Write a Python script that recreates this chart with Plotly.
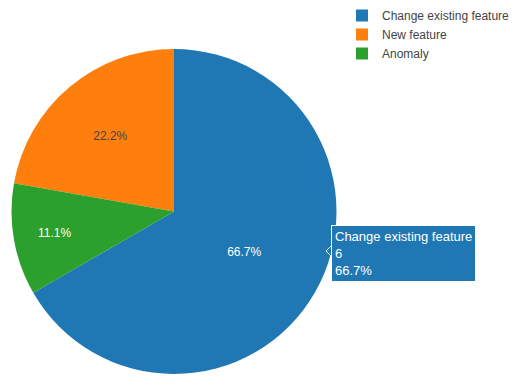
import plotly.graph_objects as go

labels = ["Change existing feature", "New feature", "Anomaly"]
values = [6, 2, 1]
colors = ["#1f77b4", "#ff7f0e", "#2ca02c"]

W, H = 524, 385
ML, MR, MT, MB = 10, 186, 49, 11
PW, PH = W - ML - MR, H - MT - MB

def px_x(x):
    return (x - ML) / PW

def px_y(y):
    return (H - MB - y) / PH

fig = go.Figure(go.Pie(
    labels=labels,
    values=values,
    marker=dict(colors=colors),
    textinfo="percent",
    hoverinfo="label+value+percent",
))

total = sum(values)
hover_text = f"{labels[0]}<br>{values[0]}<br>{values[0] / total * 100:.1f}%"
fig.add_annotation(
    xref="paper", yref="paper",
    x=px_x(331), y=px_y(225),
    xanchor="left", yanchor="top",
    text=hover_text, align="left", showarrow=False,
    bgcolor=colors[0], bordercolor="white", borderwidth=1, borderpad=3,
    font=dict(color="white", size=13, family="Liberation Sans, Arial, sans-serif"),
)
fig.add_shape(
    type="path", xref="paper", yref="paper",
    path=f"M {px_x(332)} {px_y(245)} L {px_x(326)} {px_y(251)} L {px_x(332)} {px_y(257)} Z",
    fillcolor=colors[0], line=dict(color="white", width=1),
)

fig.update_layout(
    width=W, height=H,
    margin=dict(l=ML, r=MR, t=MT, b=MB, autoexpand=False),
    paper_bgcolor="white", plot_bgcolor="white",
    font=dict(family="Liberation Sans, Arial, sans-serif", size=12, color="#444"),
    legend=dict(x=px_x(342), xanchor="left", y=px_y(1), yanchor="top", font=dict(size=12)),
)

fig.write_html("out.html", config={"displayModeBar": False},
               post_script="document.body.style.margin='0';")
